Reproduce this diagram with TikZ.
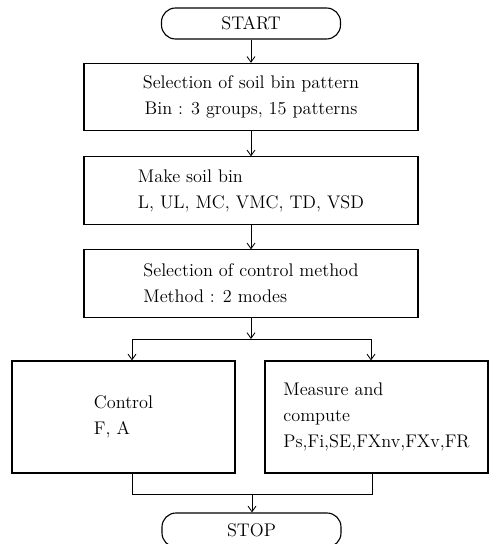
\documentclass[tikz,border=0pt]{standalone}
\usepackage{tikz}
\usetikzlibrary{arrows.meta,positioning}
\newcommand{\flowfont}{\fontsize{13}{18.5}\selectfont}
\tikzset{
	blk/.style={draw, line width=0.8pt, minimum width=83.5mm, minimum height=16.8mm,
		align=left, font=\flowfont, inner sep=0pt},
	term/.style={draw, line width=0.8pt, rounded corners=3.5mm, minimum width=44.75mm,
		minimum height=7.75mm, font=\flowfont},
	half/.style={blk, minimum width=55.75mm, minimum height=28mm},
	conn/.style={line width=0.6pt},
	flow/.style={conn, -{Straight Barb[length=1.4mm, width=2mm]}},
}

\begin{document}
\begin{tikzpicture}[x=1cm, y=1cm]
	\useasboundingbox (0,0) rectangle (12.225,-13.6);
	\node[term] at (6.275,-0.5875) (start) {START};
	\node[blk, align=center] at (6.275,-2.425) (pat) {Selection of soil bin pattern\\Bin : 3 groups, 15 patterns};
	\node[blk] at (6.275,-4.7625) (make) {Make soil bin\\L, UL, MC, VMC, TD, VSD};
	\node[blk] at (6.275,-7.0875) (sel) {Selection of control method\\Method : 2 modes};
	\node[half] at (3.0875,-10.425) (ctrl) {Control\\F, A};
	\node[half] at (9.4125,-10.425) (meas) {Measure and\\compute\\Ps,Fi,SE,FXnv,FXv,FR};
	\node[term, minimum height=8.5mm] at (6.2875,-13.25) (stop) {STOP};
	\coordinate (split) at (6.275,-8.475);
	\coordinate (splitl) at (3.3,-8.475);
	\coordinate (splitr) at (9.275,-8.475);
	\coordinate (joinl) at (3.3,-12.35);
	\coordinate (joinr) at (9.3,-12.35);
	\coordinate (join) at (6.3,-12.35);
	\draw[flow] (start) -- (pat);
	\draw[flow] (pat) -- (make);
	\draw[flow] (make) -- (sel);
	\draw[flow] (sel) -- (split);
	\draw[conn] (splitl) -- (splitr);
	\draw[flow] (splitl) -- (splitl |- ctrl.north);
	\draw[flow] (splitr) -- (splitr |- meas.north);
	\draw[conn] (ctrl.south -| joinl) -- (joinl) -- (joinr) -- (meas.south -| joinr);
	\draw[flow] (join) -- (join |- stop.north);
\end{tikzpicture}
\end{document}
